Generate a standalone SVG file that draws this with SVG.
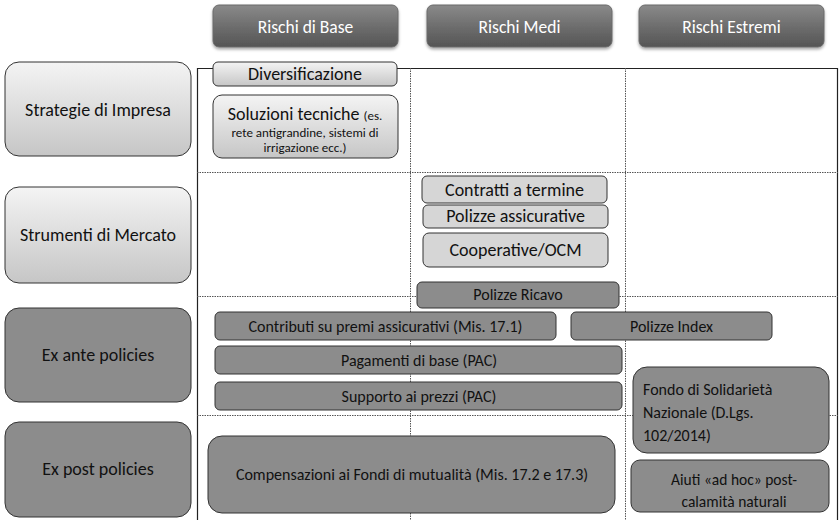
<svg xmlns="http://www.w3.org/2000/svg" width="839" height="520" viewBox="0 0 839 520">
<defs>
<linearGradient id="gHead" x1="0" y1="0" x2="0" y2="1">
<stop offset="0" stop-color="#8a8a8a"/><stop offset="0.5" stop-color="#6e6e6e"/><stop offset="1" stop-color="#555555"/>
</linearGradient>
<linearGradient id="gLight" x1="0" y1="0" x2="0" y2="1">
<stop offset="0" stop-color="#f4f4f4"/><stop offset="1" stop-color="#c6c6c6"/>
</linearGradient>
<filter id="sh" x="-10%" y="-20%" width="120%" height="150%">
<feDropShadow dx="0" dy="2" stdDeviation="1.5" flood-color="#000" flood-opacity="0.35"/>
</filter>
</defs>
<style>
text{font-family:Carlito,"Liberation Sans Narrow","Open Sans","Liberation Sans",sans-serif;fill:#111;text-anchor:middle}
.head rect{fill:url(#gHead);stroke:#6a6a6a;stroke-width:1;filter:url(#sh)}
.head text{fill:#fff;font-size:17.5px}
.row rect{stroke:#333;stroke-width:1}
.rl rect{fill:url(#gLight)}
.rd rect{fill:#8c8c8c}
.row text{font-size:18px}
.lb rect{fill:url(#gLight);stroke:#333;stroke-width:1}
.mb rect{fill:#d6d6d6;stroke:#333;stroke-width:1}
.db rect{fill:#8c8c8c;stroke:#333;stroke-width:1}
.lb text,.mb text{font-size:18px}
.db text{font-size:16px}
.lb text.sm,.lb tspan.sm{font-size:13px}
.db text.big{font-size:16px;text-anchor:start}
.db text.mid{font-size:15.5px}
.grid .solid{stroke:#222;stroke-width:1.2;fill:none}
.grid .dot{stroke:#555;stroke-width:1;stroke-dasharray:1.5 1;fill:none}
</style>
<g id="grid" class="grid">
<path class="solid" d="M197.5 520 V68.5 H838 M837.5 68 V520"/>
<path class="dot" d="M410.5 68 V520 M625.5 68 V520 M197 172.5 H838 M197 296.5 H838 M197 415.5 H838"/>
</g>
<g id="h1" class="head"><rect x="213" y="5" width="185" height="42" rx="6"/><text x="305.5" y="33">Rischi di Base</text></g>
<g id="h2" class="head"><rect x="427" y="5" width="185" height="42" rx="6"/><text x="519.5" y="33">Rischi Medi</text></g>
<g id="h3" class="head"><rect x="639" y="5" width="185" height="42" rx="6"/><text x="731.5" y="33">Rischi Estremi</text></g>
<g id="r1" class="row rl"><rect x="5" y="62" width="186" height="94" rx="14"/><text x="98" y="116">Strategie di Impresa</text></g>
<g id="r2" class="row rl"><rect x="5" y="187" width="186" height="96" rx="14"/><text x="98" y="241">Strumenti di Mercato</text></g>
<g id="r3" class="row rd"><rect x="5" y="308" width="186" height="94" rx="14"/><text x="98" y="361">Ex ante policies</text></g>
<g id="r4" class="row rd"><rect x="5" y="422" width="186" height="95" rx="14"/><text x="98" y="475">Ex post policies</text></g>
<g id="n1" class="lb"><rect x="213" y="62" width="184" height="24" rx="5"/><text x="305" y="80">Diversificazione</text></g>
<g id="n2" class="lb"><rect x="213" y="95" width="185" height="63" rx="9"/>
<text x="305" y="120">Soluzioni tecniche <tspan class="sm">(es.</tspan></text>
<text class="sm" x="305" y="137">rete antigrandine, sistemi di</text>
<text class="sm" x="305" y="152">irrigazione ecc.)</text></g>
<g id="n3" class="mb"><rect x="422" y="176" width="185" height="27" rx="5"/><text x="514.5" y="196">Contratti a termine</text></g>
<g id="n4" class="mb"><rect x="423" y="205" width="185" height="23" rx="5"/><text x="515.5" y="222">Polizze assicurative</text></g>
<g id="n5" class="mb"><rect x="423" y="233" width="185" height="34" rx="6"/><text x="515.5" y="256">Cooperative/OCM</text></g>
<g id="n6" class="db"><rect x="417" y="282" width="202" height="26" rx="5"/><text x="518" y="300">Polizze Ricavo</text></g>
<g id="n7" class="db"><rect x="215" y="312" width="341" height="28" rx="5"/><text x="385.5" y="332">Contributi su premi assicurativi (Mis. 17.1)</text></g>
<g id="n8" class="db"><rect x="571" y="312" width="201" height="28" rx="5"/><text x="671.5" y="332">Polizze Index</text></g>
<g id="n9" class="db"><rect x="215" y="346" width="407" height="28" rx="5"/><text x="419" y="366">Pagamenti di base (PAC)</text></g>
<g id="n10" class="db"><rect x="215" y="382" width="407" height="28" rx="5"/><text x="419" y="402">Supporto ai prezzi (PAC)</text></g>
<g id="n11" class="db"><rect x="208" y="436" width="407" height="77" rx="14"/><text x="412" y="480">Compensazioni ai Fondi di mutualità (Mis. 17.2 e 17.3)</text></g>
<g id="n12" class="db"><rect x="633" y="367" width="196" height="86" rx="14"/>
<text class="big" x="643" y="395">Fondo di Solidarietà</text>
<text class="big" x="643" y="418">Nazionale (D.Lgs.</text>
<text class="big" x="643" y="441">102/2014)</text></g>
<g id="n13" class="db"><rect x="631" y="460" width="198" height="52" rx="9"/>
<text class="mid" x="734" y="485">Aiuti «ad hoc» post-</text>
<text class="mid" x="734" y="507">calamità naturali</text></g>
</svg>
